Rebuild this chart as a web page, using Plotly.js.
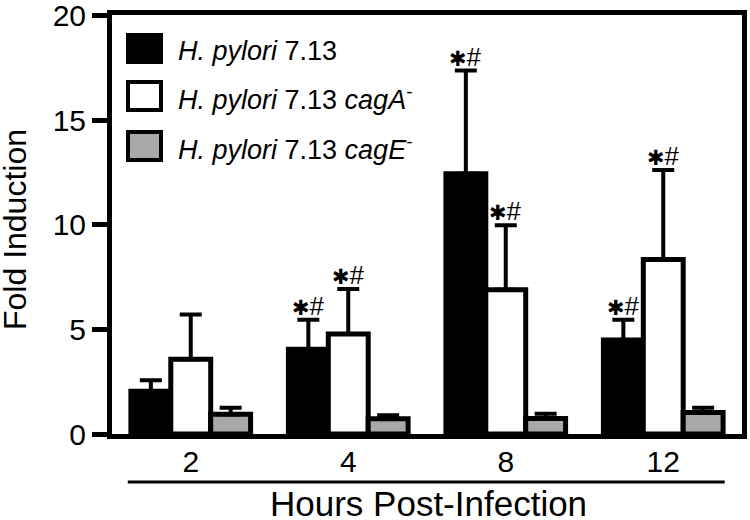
<!DOCTYPE html>
<html>
<head>
<meta charset="utf-8">
<script src="https://cdn.plot.ly/plotly-3.0.1.min.js"></script>
<style>html,body{margin:0;padding:0;background:#fff;}#chart{width:750px;height:520px;}</style>
</head>
<body>
<div id="chart"></div>
<script>
// ---- data ----
var categories = ['2', '4', '8', '12'];
var seriesNames = [
  '<i>H. pylori</i> 7.13',
  '<i>H. pylori</i> 7.13 <i>cagA</i><sup>-</sup>',
  '<i>H. pylori</i> 7.13 <i>cagE</i><sup>-</sup>'
];
var wtValues   = [2.05, 4.05, 12.45, 4.50];
var wtErr      = [0.52, 1.42, 4.93, 0.97];
var cagAValues = [3.58, 4.78, 6.90, 8.35];
var cagAErr    = [2.13, 2.16, 3.08, 4.28];
var cagEValues = [0.95, 0.73, 0.74, 1.03];
var cagEErr    = [0.30, 0.17, 0.23, 0.23];
var wtSig   = ['', '*#', '*#', '*#'];
var cagASig = ['', '*#', '*#', '*#'];
var cagESig = ['', '', '', ''];
var yTicks = [0, 5, 10, 15, 20];
var xTitle = 'Hours Post-Infection';
var yTitle = 'Fold Induction';

// ---- styling / layout ----
var FONT = 'Liberation Sans, Arial, Helvetica, sans-serif';
var fills = ['#000000', '#ffffff', '#a8a8a8'];
var M = {l: 112, r: 8, t: 15, b: 86};
var W = 750, H = 520;
var PW = W - M.l - M.r, PH = H - M.t - M.b;
var bargap = 0.24;

var values = [wtValues, cagAValues, cagEValues];
var errs = [wtErr, cagAErr, cagEErr];
var sigs = [wtSig, cagASig, cagESig];

var traces = values.map(function (v, k) {
  return {
    type: 'bar',
    x: categories,
    y: v,
    name: seriesNames[k],
    marker: {color: fills[k], line: {color: '#000', width: 5}},
    error_y: {
      type: 'data', symmetric: false,
      array: errs[k], arrayminus: v.map(function () { return 0; }),
      color: '#000', thickness: 4, width: 11
    },
    showlegend: false,
    hoverinfo: 'skip'
  };
});

function sigText(s) {
  return s.replace('*', '<span style="font-family:DejaVu Sans;font-size:21px">\u2731</span>')
          .replace('#', '<span style="font-size:26px">#</span>');
}

function px2x(px) { return (px - M.l) / PW; }
function px2y(py) { return (M.t + PH - py) / PH; }

var annotations = [];
var barW = (1 - bargap) / 3;
sigs.forEach(function (s, k) {
  s.forEach(function (txt, i) {
    if (!txt) return;
    annotations.push({
      xref: 'x', yref: 'y',
      x: i + (k - 1) * barW,
      y: values[k][i] + errs[k][i],
      yanchor: 'bottom', xanchor: 'center', yshift: -3,
      showarrow: false,
      text: sigText(txt),
      font: {family: FONT, size: 26, color: '#000'}
    });
  });
});

// axis titles
annotations.push({
  xref: 'paper', yref: 'paper', x: px2x(428), y: px2y(503),
  xanchor: 'center', yanchor: 'middle', showarrow: false, borderpad: 0,
  text: xTitle, font: {family: FONT, size: 35, color: '#000'}
});
annotations.push({
  xref: 'paper', yref: 'paper', x: px2x(15), y: px2y(230),
  xanchor: 'center', yanchor: 'middle', showarrow: false, textangle: -90, borderpad: 0,
  text: yTitle, font: {family: FONT, size: 32, color: '#000'}
});

var shapes = [];
var legendBoxes = [[35, 62], [82, 110], [132, 160]];
legendBoxes.forEach(function (b, k) {
  shapes.push({
    type: 'rect', xref: 'paper', yref: 'paper',
    x0: px2x(128), x1: px2x(161), y0: px2y(b[1]), y1: px2y(b[0]),
    fillcolor: fills[k], line: {color: '#000', width: 4}
  });
  annotations.push({
    xref: 'paper', yref: 'paper',
    x: px2x(176), y: px2y((b[0] + b[1]) / 2 + 2),
    xanchor: 'left', yanchor: 'middle', showarrow: false,
    text: seriesNames[k],
    font: {family: FONT, size: 27, color: '#000'}
  });
});
// line under the category labels
shapes.push({
  type: 'line', xref: 'x', yref: 'paper',
  x0: -0.4, x1: 3.39, y0: px2y(482), y1: px2y(482),
  line: {color: '#000', width: 3}
});

var layout = {
  width: W, height: H,
  margin: M,
  paper_bgcolor: '#fff', plot_bgcolor: '#fff',
  barmode: 'group', bargap: bargap, bargroupgap: 0,
  font: {family: FONT, color: '#000'},
  xaxis: {
    type: 'category', range: [-0.5, 3.5],
    showline: true, linewidth: 5, linecolor: '#000', mirror: true,
    ticks: '', showgrid: false, zeroline: false,
    tickfont: {family: FONT, size: 30, color: '#000'},
    ticklabelstandoff: -3,
    fixedrange: true
  },
  yaxis: {
    range: [0, 20.04], tickvals: yTicks, ticktext: yTicks.map(String),
    showline: true, linewidth: 5, linecolor: '#000', mirror: true,
    ticks: 'outside', ticklen: 15, tickwidth: 5, tickcolor: '#000',
    showgrid: false, zeroline: false,
    ticklabeloverflow: 'allow',
    tickfont: {family: FONT, size: 30, color: '#000'},
    fixedrange: true
  },
  annotations: annotations,
  shapes: shapes,
  showlegend: false
};

Plotly.newPlot('chart', traces, layout, {staticPlot: true, displayModeBar: false});
</script>
</body>
</html>
